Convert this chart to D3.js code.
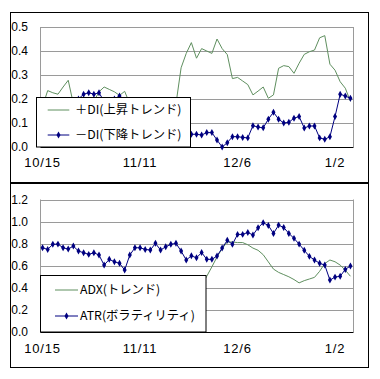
<!DOCTYPE html>
<html><head><meta charset="utf-8">
<script src="https://cdn.jsdelivr.net/npm/d3@7"></script>
<style>
body{margin:0;background:#fff;}
svg{display:block;font-family:"Liberation Sans",Arial,sans-serif;}
</style>
</head><body>
<svg id="c" width="380" height="379"></svg>
<script>
const categories = ["10/15","10/16","10/17","10/20","10/21","10/22","10/23","10/24","10/27","10/28",
  "10/29","10/30","10/31","11/3","11/4","11/5","11/6","11/7","11/10","11/11",
  "11/12","11/13","11/14","11/17","11/18","11/19","11/20","11/21","11/24","11/25",
  "11/26","11/27","11/28","12/1","12/2","12/3","12/4","12/5","12/6","12/8",
  "12/9","12/10","12/11","12/12","12/15","12/16","12/17","12/18","12/19","12/22",
  "12/23","12/24","12/25","12/26","12/29","12/30","12/31","1/2","1/5","1/6","1/7"];
const tickLabels = ["10/15","11/11","12/6","1/2"];

const plusDI = [0.17,0.235,0.226,0.22,0.25,0.278,0.18,0.16,0.15,0.17,
  0.19,0.23,0.25,0.24,0.23,0.215,0.232,0.18,0.15,0.13,
  0.12,0.11,0.10,0.10,0.11,0.13,0.18,0.33,0.39,0.435,
  0.37,0.41,0.40,0.39,0.45,0.41,0.385,0.285,0.29,0.275,
  0.26,0.217,0.233,0.25,0.203,0.217,0.328,0.339,0.335,0.307,
  0.349,0.386,0.397,0.404,0.455,0.464,0.345,0.32,0.272,0.245,0.19];
const minusDI = [0.18,0.17,0.19,0.18,0.16,0.17,0.19,0.20,0.22,0.226,
  0.22,0.226,0.19,0.18,0.20,0.213,0.17,0.15,0.14,0.12,
  0.11,0.10,0.09,0.08,0.07,0.07,0.06,0.06,0.055,0.053,
  0.053,0.05,0.06,0.06,0.029,0.0,0.018,0.043,0.043,0.04,
  0.038,0.089,0.083,0.08,0.116,0.145,0.116,0.10,0.103,0.12,
  0.127,0.079,0.0875,0.0875,0.038,0.032,0.043,0.127,0.22,0.2125,0.203];
const adx = [0.42,0.41,0.40,0.39,0.38,0.37,0.36,0.36,0.35,0.35,
  0.34,0.34,0.35,0.36,0.37,0.38,0.38,0.37,0.36,0.35,
  0.34,0.33,0.32,0.31,0.30,0.30,0.31,0.33,0.35,0.37,
  0.39,0.42,0.505,0.59,0.68,0.755,0.815,0.815,0.81,0.81,
  0.79,0.76,0.74,0.70,0.635,0.57,0.54,0.52,0.50,0.475,
  0.445,0.465,0.48,0.495,0.55,0.62,0.652,0.636,0.606,0.56,0.505];
const atr = [0.763,0.748,0.794,0.796,0.763,0.751,0.778,0.733,0.718,0.703,
  0.718,0.697,0.606,0.658,0.636,0.622,0.561,0.697,0.763,0.763,
  0.748,0.742,0.803,0.742,0.772,0.794,0.803,0.733,0.652,0.69,
  0.672,0.72,0.658,0.658,0.688,0.76,0.83,0.794,0.884,0.884,
  0.902,0.878,0.944,0.99,0.965,0.893,0.968,0.946,0.893,0.848,
  0.796,0.74,0.685,0.652,0.622,0.606,0.47,0.497,0.505,0.567,0.598];

const topTicks = [0,0.1,0.2,0.3,0.4,0.5];
const bottomTicks = [0,0.2,0.4,0.6,0.8,1.0,1.2];
const topNames = ["＋DI(上昇トレンド)","－DI(下降トレンド)"];
const bottomNames = ["ADX(トレンド)","ATR(ボラティリティ)"];

const GREEN = "#5f8f5f", NAVY = "#000080", GRID = "#9a9a9a";
const svg = d3.select("#c");

function panel(o){
  const g = svg.append("g");
  g.append("rect").attr("x",10.5).attr("y",o.frameTop).attr("width",358).attr("height",o.frameH)
    .attr("fill","#fff").attr("stroke","#000").attr("stroke-width",1);
  const x = d3.scaleBand().domain(categories).range([40,353]);
  const cx = d => x(d) + x.bandwidth()/2;
  const y = d3.scaleLinear().domain([0, d3.max(o.ticks)]).range([o.bottom, o.top]);
  g.append("g").selectAll("line").data(o.ticks.filter(t=>t>0)).join("line")
    .attr("x1",40).attr("x2",353).attr("y1",d=>Math.round(y(d))+0.5).attr("y2",d=>Math.round(y(d))+0.5)
    .attr("stroke",GRID).attr("stroke-width",1);
  g.append("line").attr("x1",40.5).attr("x2",40.5).attr("y1",o.top).attr("y2",o.bottom).attr("stroke",GRID);
  g.append("line").attr("x1",353.5).attr("x2",353.5).attr("y1",o.top).attr("y2",o.bottom).attr("stroke",GRID);
  const ya = g.append("g").attr("transform","translate(40,0)")
    .call(d3.axisLeft(y).tickValues(o.ticks).tickFormat(d3.format(".1f")).tickSize(0).tickPadding(12));
  ya.select(".domain").remove();
  ya.selectAll("text").attr("font-size",12).attr("fill","#000").attr("font-family","Liberation Sans, Arial, sans-serif");
  const xa = g.append("g").attr("transform",`translate(0,${o.bottom})`)
    .call(d3.axisBottom(x).tickValues(categories.filter(c=>tickLabels.includes(c))).tickSize(0).tickPadding(o.xpad));
  xa.select(".domain").attr("stroke","#000");
  xa.selectAll("text").attr("font-size",13).attr("letter-spacing","0.8px").attr("fill","#000")
    .attr("font-family","Liberation Sans, Arial, sans-serif");
  const line = d3.line().x((d,i)=>cx(categories[i])).y(d=>y(d));
  g.append("path").datum(o.s1).attr("d",line).attr("fill","none").attr("stroke",GREEN).attr("stroke-width",1);
  g.append("path").datum(o.s2).attr("d",line).attr("fill","none").attr("stroke",NAVY).attr("stroke-width",1);
  const diamond = d3.symbol().type(d3.symbolDiamond).size(14);
  g.append("g").selectAll("path").data(o.s2).join("path")
    .attr("d",diamond).attr("transform",(d,i)=>`translate(${cx(categories[i])},${y(d)})`).attr("fill",NAVY);
  const L = o.legend;
  const lg = g.append("g");
  lg.append("rect").attr("x",L.x).attr("y",L.y).attr("width",L.w).attr("height",L.h)
    .attr("fill","#fff").attr("stroke","#000");
  o.names.forEach((n,i)=>{
    const yy = L.rows[i];
    lg.append("line").attr("x1",L.lx1).attr("x2",L.lx2).attr("y1",yy).attr("y2",yy)
      .attr("stroke", i===0?GREEN:NAVY).attr("stroke-width", 1);
    if(i===1) lg.append("path").attr("d",diamond).attr("transform",`translate(${(L.lx1+L.lx2)/2},${yy})`).attr("fill",NAVY);
    lg.append("text").attr("x",L.tx).attr("y",yy).attr("dy","0.35em").attr("font-size",12.3)
      .attr("font-family","'Noto Sans CJK JP','Liberation Sans',sans-serif").attr("fill","#000").text(n);
  });
}

panel({frameTop:12.5, frameH:170, top:27, bottom:147, ticks:topTicks, xpad:11,
  s1:plusDI, s2:minusDI, names:topNames,
  legend:{x:36.5,y:97.5,w:154,h:49.5,rows:[110,135],lx1:47.7,lx2:69.3,tx:75}});
panel({frameTop:183.5, frameH:184, top:199.5, bottom:332, ticks:bottomTicks, xpad:12,
  s1:adx, s2:atr, names:bottomNames,
  legend:{x:40.5,y:275.5,w:165.5,h:56.5,rows:[290,316],lx1:55,lx2:78,tx:80}});
</script>
</body></html>
